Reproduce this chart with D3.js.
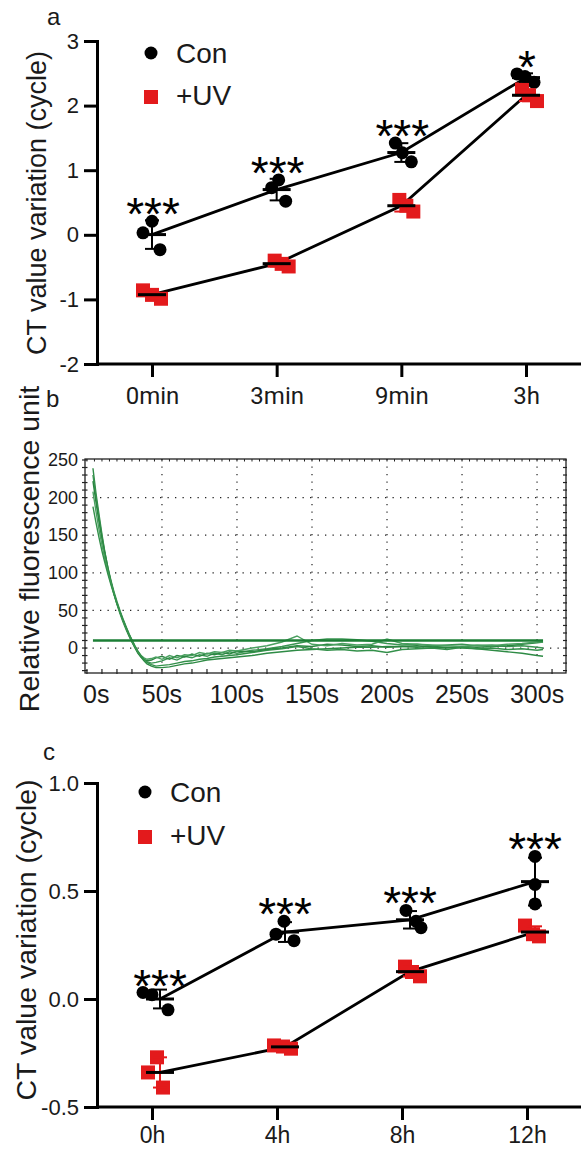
<!DOCTYPE html>
<html><head><meta charset="utf-8">
<script src="https://cdn.jsdelivr.net/npm/d3@7"></script>
<style>body{margin:0;background:#fff}svg{display:block}</style>
</head><body><svg id="chart" width="581" height="1149"></svg>
<script>
// ---------- Panel a data ----------
const catsA = ["0min", "3min", "9min", "3h"];
const conA = [[0.03, 0.21, -0.23], [0.73, 0.85, 0.52], [1.42, 1.27, 1.13], [2.49, 2.45, 2.36]];
const uvA = [[-0.86, -0.93, -0.99], [-0.40, -0.45, -0.49], [0.54, 0.45, 0.36], [2.25, 2.16, 2.07]];
const starsA = ["***", "***", "***", "*"];
const yTicksA = [-2, -1, 0, 1, 2, 3];

// ---------- Panel b data ----------
const timesB = [4,6,8,10,12,14,16,18,20,22,24,26,28,30,32,34,36,38,40,43,46,50,55,60,65,70,75,80,85,90,95,100,110,120,130,140,150,160,170,180,190,200,210,220,230,240,250,260,270,280,290,300,304];
const trace1 = [239,206,178,151,127,106,88,72,58,46,35,25,16,8,1,-6,-12,-17,-21,-24,-26,-26,-25,-23,-21,-20,-18,-16,-15,-14,-13,-12,-10,-7,-5,-3,-2,-1,0,1,1,2,2,1,2,1,0,-1,-3,-5,-7,-10,-11];
const trace2 = [230,200,173,148,126,107,90,75,62,50,39,29,19,10,2,-5,-11,-15,-18,-20,-19,-17,-13,-16,-11,-13,-9,-11,-7,-9,-5,-7,-3,-1,2,6,10,12,12,11,9,6,4,5,3,4,5,3,4,2,3,1,0];
const trace3 = [222,194,168,145,124,105,88,73,60,48,37,27,17,8,0,-7,-12,-15,-17,-16,-13,-11,-15,-10,-12,-8,-11,-7,-9,-6,-8,-4,-5,-2,0,3,2,5,4,2,3,1,2,3,1,0,2,1,2,3,5,7,8];
const trace4 = [208,182,158,137,118,101,86,72,59,48,37,27,18,10,2,-5,-10,-13,-15,-14,-12,-15,-10,-13,-9,-10,-6,-8,-5,-6,-3,-4,0,3,8,16,5,3,6,4,5,12,6,5,4,3,2,4,3,5,6,8,8];
const trace5 = [188,167,147,129,113,98,84,71,59,48,38,28,19,11,3,-4,-10,-15,-19,-22,-24,-23,-22,-20,-18,-17,-15,-14,-12,-11,-10,-9,-6,-3,-1,2,-1,-3,-2,-4,-3,-6,-2,-1,0,-2,1,-1,0,-2,-1,-3,-2];
const thresholdB = 10;
const thresholdSpanB = [4, 304];
const xTicksB = [0, 50, 100, 150, 200, 250, 300];
const yTicksB = [0, 50, 100, 150, 200, 250];

// ---------- Panel c data ----------
const catsC = ["0h", "4h", "8h", "12h"];
const conC = [[0.03, 0.02, -0.05], [0.30, 0.36, 0.27], [0.41, 0.36, 0.33], [0.66, 0.53, 0.44]];
const uvC = [[-0.34, -0.27, -0.41], [-0.215, -0.22, -0.23], [0.15, 0.125, 0.105], [0.34, 0.30, 0.29]];
const starsC = ["***", "***", "***", "***"];
const yTicksC = [-0.5, 0, 0.5, 1.0];

// ---------- styling ----------
const RED = "#e31a1c";
const FONT = "Arial, 'Liberation Sans', Helvetica, sans-serif";
const svg = d3.select("#chart");

function dotPanel(o) {
  const g = svg.append("g");
  const x = d3.scalePoint(o.cats, o.xRange);
  const y = d3.scaleLinear(o.yDomain, o.yRange);
  const cx = (i) => x(o.cats[i]) + o.groupShift;

  const ya = g.append("g").attr("transform", `translate(${o.axisX},0)`)
    .call(d3.axisLeft(y).tickValues(o.yTicks).tickSize(13).tickSizeOuter(0).tickPadding(5).tickFormat(o.fmt));
  ya.select(".domain").attr("stroke", "#000").attr("stroke-width", 3).attr("stroke-linecap", "square");
  ya.selectAll(".tick line").attr("stroke", "#000").attr("stroke-width", 3);
  ya.selectAll(".tick text").attr("font-family", FONT).attr("font-size", o.yTickSize).attr("fill", "#1a1a1a");

  const xa = g.append("g").attr("transform", `translate(0,${o.yRange[0]})`)
    .call(d3.axisBottom(x).tickSize(13).tickSizeOuter(0));
  xa.select(".domain").remove();
  xa.selectAll(".tick line").attr("stroke", "#000").attr("stroke-width", 3);
  xa.selectAll(".tick text").attr("font-family", o.xFont).attr("font-size", o.xTickSize).attr("fill", "#1a1a1a")
    .attr("y", o.xLabelY).attr("dy", null);
  g.append("line").attr("x1", o.axisX).attr("x2", 581).attr("y1", o.yRange[0]).attr("y2", o.yRange[0])
    .attr("stroke", "#000").attr("stroke-width", 3);

  g.append("text").attr("transform", `translate(${o.titleX},${o.titleY}) rotate(-90)`)
    .attr("text-anchor", "middle").attr("font-family", FONT).attr("font-size", o.titleSize)
    .attr("fill", "#1a1a1a").text("CT value variation (cycle)");
  g.append("text").attr("x", o.letterPos[0]).attr("y", o.letterPos[1]).attr("font-family", FONT)
    .attr("font-size", 24).attr("fill", "#1a1a1a").text(o.letter);

  const series = [
    { vals: o.con, jit: o.jitCon, color: "#000", shape: "circle" },
    { vals: o.uv, jit: o.jitUV, color: RED, shape: "square" }
  ];
  series.forEach(s => {
    const pts = s.vals.map((v, i) => [cx(i), y(d3.mean(v))]);
    g.append("path").attr("d", d3.line()(pts)).attr("fill", "none").attr("stroke", "#000").attr("stroke-width", 2.8);
  });
  series.forEach(s => {
    s.vals.forEach((v, i) => {
      v.forEach((val, k) => {
        const px = cx(i) + s.jit[i][k], py = y(val);
        if (s.shape === "circle") g.append("circle").attr("cx", px).attr("cy", py).attr("r", 6.5).attr("fill", "#000");
        else g.append("rect").attr("x", px - 7).attr("y", py - 7).attr("width", 14).attr("height", 14).attr("fill", RED);
      });
    });
  });
  series.forEach(s => {
    s.vals.forEach((v, i) => {
      const m = d3.mean(v), sd = d3.deviation(v), c = cx(i);
      const ec = s.shape === "circle" ? "#000" : RED;
      g.append("line").attr("x1", c).attr("x2", c).attr("y1", y(m + sd)).attr("y2", y(m - sd)).attr("stroke", ec).attr("stroke-width", 2);
      [m + sd, m - sd].forEach(e => g.append("line").attr("x1", c - 7).attr("x2", c + 7).attr("y1", y(e)).attr("y2", y(e)).attr("stroke", ec).attr("stroke-width", 2));
      g.append("line").attr("x1", c - 14).attr("x2", c + 14).attr("y1", y(m)).attr("y2", y(m)).attr("stroke", "#000").attr("stroke-width", 3);
    });
  });
  o.stars.forEach((st, i) => {
    const top = d3.max(o.con[i]);
    g.append("text").attr("x", cx(i) + o.starShift).attr("y", y(top) + 9).attr("text-anchor", "middle")
      .attr("font-family", FONT).attr("font-size", 46).attr("fill", "#000").text(st);
  });
  const L = o.legend;
  g.append("circle").attr("cx", L[0]).attr("cy", L[1]).attr("r", 6.5).attr("fill", "#000");
  g.append("text").attr("x", L[2]).attr("y", L[1] + 10).attr("font-family", FONT).attr("font-size", 28).attr("fill", "#1a1a1a").text("Con");
  g.append("rect").attr("x", L[0] - 7).attr("y", L[3] - 7).attr("width", 14).attr("height", 14).attr("fill", RED);
  g.append("text").attr("x", L[2]).attr("y", L[3] + 8).attr("font-family", FONT).attr("font-size", 28).attr("fill", "#1a1a1a").text("+UV");
}

dotPanel({
  cats: catsA, con: conA, uv: uvA, stars: starsA, yTicks: yTicksA,
  xRange: [152, 526], yDomain: [-2, 3], yRange: [364, 41], axisX: 97, groupShift: 0, starShift: 1,
  fmt: d => String(d), yTickSize: 22, xFont: "Roboto, Arial, sans-serif", xTickSize: 24, xLabelY: 40,
  titleX: 46, titleY: 203, titleSize: 27, letter: "a", letterPos: [47, 25],
  jitCon: [[-9, 0, 8], [-5, 2, 9], [-6, 1, 10], [-9, -1, 8]],
  jitUV: [[-9, 0, 9], [-2, 5, 12], [-2, 5, 12], [-4, 3, 11]],
  legend: [151, 53, 176, 97]
});

dotPanel({
  cats: catsC, con: conC, uv: uvC, stars: starsC, yTicks: yTicksC,
  xRange: [152, 527], yDomain: [-0.5, 1.0], yRange: [1107, 783], axisX: 97, groupShift: 8, starShift: 0,
  fmt: d => d.toFixed(1), yTickSize: 22, xFont: FONT, xTickSize: 23, xLabelY: 36,
  titleX: 36, titleY: 940, titleSize: 28.5, letter: "c", letterPos: [43, 760],
  jitCon: [[-17, -8, 8], [-9, -1, 9], [-4, 6, 11], [0, 0, 0]],
  jitUV: [[-12, -3, 3], [-11, -2, 6], [-5, 2, 10], [-10, -2, 4]],
  legend: [145, 792, 170, 837]
});

// ---------- Panel b ----------
(function () {
  const g = svg.append("g");
  const x = d3.scaleLinear([-1.3, 319.3], [85, 566]);
  const y = d3.scaleLinear([-33.2, 251.3], [673, 459]);
  const [x0, x1] = x.range(), [y0, y1] = y.range();
  const ink = "#222";
  g.selectAll(".gx").data(xTicksB.slice(1)).join("line")
    .attr("x1", d => x(d)).attr("x2", d => x(d)).attr("y1", y1).attr("y2", y0)
    .attr("stroke", ink).attr("stroke-width", 1.2).attr("stroke-dasharray", "1.3,6.2");
  g.selectAll(".gy").data(yTicksB.slice(0, -1)).join("line")
    .attr("x1", x0).attr("x2", x1).attr("y1", d => y(d)).attr("y2", d => y(d))
    .attr("stroke", ink).attr("stroke-width", 1.2).attr("stroke-dasharray", "1.3,6.2");
  const line = d3.line().x((d, i) => x(timesB[i])).y(d => y(d));
  const traceCols = ["#2e8b45", "#3a9552", "#2a8540", "#4aa060", "#33904a"];
  [trace1, trace2, trace3, trace4, trace5].forEach((t, k) => {
    g.append("path").attr("d", line(t)).attr("fill", "none").attr("stroke", traceCols[k]).attr("stroke-width", 1.4);
  });
  g.append("line").attr("x1", x(thresholdSpanB[0])).attr("x2", x(thresholdSpanB[1]))
    .attr("y1", y(thresholdB)).attr("y2", y(thresholdB)).attr("stroke", "#1b7e35").attr("stroke-width", 2.6);
  g.append("rect").attr("x", x0).attr("y", y1).attr("width", x1 - x0).attr("height", y0 - y1)
    .attr("fill", "none").attr("stroke", ink).attr("stroke-width", 1.3);
  const yMinor = d3.range(-30, 251, 10);
  g.selectAll(".ly").data(yMinor).join("line").attr("x1", x0 - 3).attr("x2", x0 + 2.5)
    .attr("y1", d => y(d)).attr("y2", d => y(d)).attr("stroke", ink).attr("stroke-width", 1.2);
  g.selectAll(".ry").data(yMinor).join("line").attr("x1", x1 - 3).attr("x2", x1 + 1)
    .attr("y1", d => y(d)).attr("y2", d => y(d)).attr("stroke", ink).attr("stroke-width", 1.2);
  const xMinor = d3.range(0, 311, 10);
  g.selectAll(".bx").data(xMinor).join("line").attr("x1", d => x(d)).attr("x2", d => x(d))
    .attr("y1", y0 - 4).attr("y2", y0 + 1).attr("stroke", ink).attr("stroke-width", 1.2);
  g.selectAll(".tx").data(d3.range(0, 316, 5)).join("line").attr("x1", d => x(d)).attr("x2", d => x(d))
    .attr("y1", y1).attr("y2", y1 + 2.5).attr("stroke", ink).attr("stroke-width", 1);
  g.selectAll(".yl").data(yTicksB).join("text").attr("x", 78).attr("y", d => y(d)).attr("dy", "0.35em")
    .attr("text-anchor", "end").attr("font-family", FONT).attr("font-size", 18).attr("fill", "#1a1a1a").text(d => d);
  g.selectAll(".xl").data(xTicksB).join("text")
    .attr("x", (d, i) => i === 0 ? x0 - 2 : x(d)).attr("y", 703)
    .attr("text-anchor", (d, i) => i === 0 ? "start" : "middle")
    .attr("font-family", FONT).attr("font-size", 25).attr("fill", "#1a1a1a").text(d => d + "s");
  g.append("text").attr("transform", `translate(39,549) rotate(-90)`).attr("text-anchor", "middle")
    .attr("font-family", FONT).attr("font-size", 28.5).attr("fill", "#1a1a1a").text("Relative fluorescence unit");
  g.append("text").attr("x", 46).attr("y", 407).attr("font-family", FONT).attr("font-size", 24).attr("fill", "#1a1a1a").text("b");
})();
</script></body></html>
